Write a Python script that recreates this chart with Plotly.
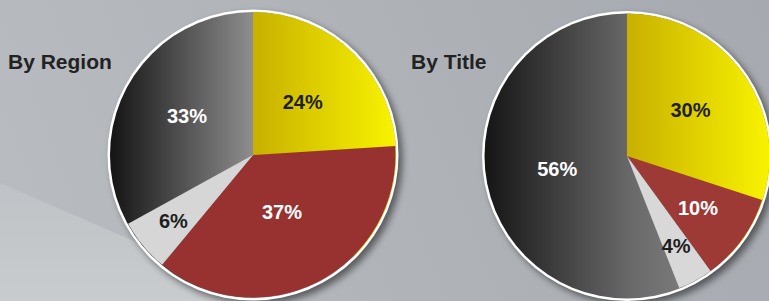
import base64
import plotly.graph_objects as go

# ---------------- data ----------------
slice_names = ["Segment A", "Segment B", "Segment C", "Segment D"]
region_values = [24, 37, 6, 33]
title_values = [30, 10, 4, 56]
chart_titles = ["By Region", "By Title"]

# ---------------- style ----------------
W, H = 769, 301
DARK_TXT = "#1e1e1e"
WHITE_TXT = "#ffffff"
TRANSPARENT = "rgba(0,0,0,0)"   # gradient-filled slices (gradient drawn underneath)
FONT = "Liberation Sans, Arial, sans-serif"

# pie geometry (pixels): centre x, centre y, radius; label_scale = radius of the label layer
pies = [
    dict(cx=253, cy=155, r=142.5, label_scale=0.86,
         colors=[TRANSPARENT, "#983230", "#d6d6d6", TRANSPARENT],
         text_colors=[DARK_TXT, WHITE_TXT, DARK_TXT, WHITE_TXT],
         outer_labels=[False, False, False, True],
         gray_stops=[(0.0, "#141414"), (1.0, "#8e8e8e")], gray_span=(110.5, 253)),
    dict(cx=627, cy=156, r=142, label_scale=0.81,
         colors=[TRANSPARENT, "#9e3a36", "#d8d8d8", TRANSPARENT],
         text_colors=[DARK_TXT, WHITE_TXT, DARK_TXT, WHITE_TXT],
         outer_labels=[True, False, False, True],
         gray_stops=[(0.0, "#151515"), (0.72, "#6a6a6a"), (1.0, "#7c7c7c")], gray_span=(485, 690)),
]


def domain(cx, cy, r):
    return dict(x=[max(0, (cx - r) / W), min(1, (cx + r) / W)],
                y=[max(0, (H - (cy + r)) / H), min(1, (H - (cy - r)) / H)])


# ---------------- decorative background (gradients, rings, shadows) ----------------
defs = [
    '<linearGradient id="bg" x1="769" y1="0" x2="0" y2="301" gradientUnits="userSpaceOnUse">'
    '<stop offset="0" stop-color="#a6aab0"/><stop offset="1" stop-color="#b9bcc0"/></linearGradient>',
    '<linearGradient id="wedge" x1="0" y1="183" x2="0" y2="301" gradientUnits="userSpaceOnUse">'
    '<stop offset="0" stop-color="#bfc2c6"/><stop offset="1" stop-color="#c9ccce"/></linearGradient>',
    '<filter id="blur" x="-20%" y="-20%" width="140%" height="140%"><feGaussianBlur stdDeviation="3.5"/></filter>',
]
body = [
    '<rect x="0" y="0" width="769" height="301" fill="url(#bg)"/>',
    '<polygon points="0,183 272,301 0,301" fill="url(#wedge)"/>',
]
for i, p in enumerate(pies):
    cx, cy, r = p["cx"], p["cy"], p["r"]
    ring = r + 3
    gx0, gx1 = p["gray_span"]
    stops = "".join(f'<stop offset="{o}" stop-color="{c}"/>' for o, c in p["gray_stops"])
    defs.append(f'<linearGradient id="g{i}" x1="{gx0}" y1="0" x2="{gx1}" y2="0" '
                f'gradientUnits="userSpaceOnUse">{stops}</linearGradient>')
    defs.append(f'<linearGradient id="y{i}" x1="{cx}" y1="0" x2="{cx + r}" y2="0" '
                f'gradientUnits="userSpaceOnUse"><stop offset="0" stop-color="#c8b000"/>'
                f'<stop offset="1" stop-color="#f8f300"/></linearGradient>')
    R = r + 20
    defs.append(f'<clipPath id="c{i}"><polygon points="{cx},{cy} {cx},{cy - R} {cx + R},{cy - R} {cx + R},{cy + R}"/></clipPath>')
    body.append(f'<circle cx="{cx + 4}" cy="{cy + 4}" r="{ring}" fill="#000" fill-opacity="0.5" filter="url(#blur)"/>')
    body.append(f'<circle cx="{cx}" cy="{cy}" r="{ring}" fill="#ffffff"/>')
    body.append(f'<circle cx="{cx}" cy="{cy}" r="{r + 0.5}" fill="url(#g{i})"/>')
    body.append(f'<circle cx="{cx}" cy="{cy}" r="{r + 0.5}" fill="url(#y{i})" clip-path="url(#c{i})"/>')

svg = (f'<svg xmlns="http://www.w3.org/2000/svg" width="{W}" height="{H}" viewBox="0 0 {W} {H}">'
       f'<defs>{"".join(defs)}</defs>{"".join(body)}</svg>')
svg_uri = "data:image/svg+xml;base64," + base64.b64encode(svg.encode()).decode()

# ---------------- figure ----------------
fig = go.Figure()
for p, vals in zip(pies, [region_values, title_values]):
    cx, cy, r = p["cx"], p["cy"], p["r"]
    outer_tpl = ["%{percent}" if o else "" for o in p["outer_labels"]]
    inner_tpl = ["" if o else "%{percent}" for o in p["outer_labels"]]
    common = dict(labels=slice_names, values=vals, sort=False, direction="clockwise", rotation=0,
                  textposition="inside", insidetextorientation="horizontal",
                  textfont=dict(family=FONT, size=20, color=p["text_colors"], weight="bold"),
                  hoverinfo="skip", showlegend=False)
    # visible pie (carries labels of the large slices)
    fig.add_trace(go.Pie(domain=domain(cx, cy, r), texttemplate=outer_tpl,
                         marker=dict(colors=p["colors"], line=dict(width=0)), **common))
    # transparent label layer with a smaller radius (labels closer to the centre)
    fig.add_trace(go.Pie(domain=domain(cx, cy, r * p["label_scale"]), texttemplate=inner_tpl,
                         marker=dict(colors=[TRANSPARENT] * len(vals), line=dict(width=0)), **common))

title_x = [6, 409]
for t, x in zip(chart_titles, title_x):
    fig.add_annotation(text=f"<b>{t}</b>", x=x / W, y=1 - 61 / H, xref="paper", yref="paper",
                       xanchor="left", yanchor="middle", showarrow=False,
                       font=dict(family=FONT, size=21, color="#222222"))

fig.update_layout(
    width=W, height=H, margin=dict(l=0, r=0, t=0, b=0),
    paper_bgcolor="#aeb2b7", plot_bgcolor="#aeb2b7",
    uniformtext=dict(minsize=20, mode="show"),
    images=[dict(source=svg_uri, xref="paper", yref="paper", x=0, y=1, sizex=1, sizey=1,
                 xanchor="left", yanchor="top", sizing="stretch", layer="below")],
)

fig.write_html("out.html", config={"displayModeBar": False},
               post_script="document.body.style.margin='0px';")
